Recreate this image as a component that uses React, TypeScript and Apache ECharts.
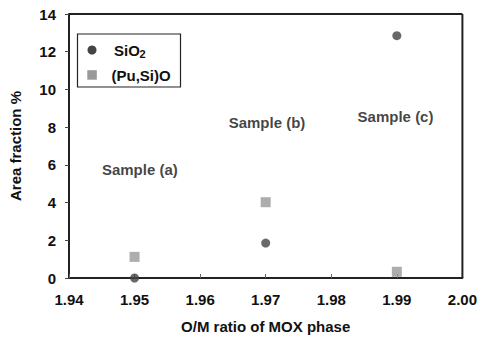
import React, { useEffect, useRef } from "react";
import * as echarts from "echarts";

const omRatio = [1.95, 1.97, 1.99];
const sio2Values = [0.0, 1.85, 12.85];
const puSiOValues = [1.12, 4.02, 0.33];
const seriesNames = ["SiO2", "(Pu,Si)O"];
const seriesColors = ["#444444", "#999999"];
const sampleLabels = ["Sample (a)", "Sample (b)", "Sample (c)"];
const sampleLabelX = [1.9508, 1.9702, 1.9898];
const sampleLabelY = [5.78, 8.27, 8.59];
const yTicks = { min: 0, max: 14, interval: 2 };
const xTicks = { min: 1.94, max: 2.0, interval: 0.01 };

const FONT = "Liberation Sans";
const TEXT = "#111111";
const FRAME = "#222222";

function textEl(x: number, y: number, text: string, size: number) {
  return {
    type: "text",
    x,
    y,
    style: {
      text,
      fontFamily: FONT,
      fontWeight: "bold",
      fontSize: size,
      fill: TEXT,
      align: "left",
      verticalAlign: "middle",
    },
  };
}

function renderFrameAndLegend(params: any, api: any) {
  const tl = api.coord([xTicks.min, yTicks.max]);
  const br = api.coord([xTicks.max, yTicks.min]);
  return {
    type: "group",
    children: [
      { type: "line", shape: { x1: tl[0], y1: tl[1], x2: br[0], y2: tl[1] }, style: { stroke: FRAME, lineWidth: 2 } },
      { type: "line", shape: { x1: br[0], y1: tl[1], x2: br[0], y2: br[1] }, style: { stroke: FRAME, lineWidth: 2 } },
      { type: "rect", shape: { x: 77.5, y: 34, width: 103, height: 53 }, style: { fill: "#ffffff", stroke: FRAME, lineWidth: 1.2 } },
      { type: "circle", shape: { cx: 92, cy: 50, r: 4.5 }, style: { fill: seriesColors[0] } },
      { type: "rect", shape: { x: 87.3, y: 70.2, width: 9.5, height: 9.5 }, style: { fill: seriesColors[1] } },
      textEl(114, 50, "SiO", 15),
      textEl(139.5, 54, "2", 11),
      textEl(111.5, 75, seriesNames[1], 15),
    ],
  };
}

export default function App() {
  const ref = useRef<HTMLDivElement>(null);
  useEffect(() => {
    if (!ref.current) return;
    const chart = echarts.init(ref.current, undefined, { renderer: "svg" });
    chart.setOption({
      animation: false,
      textStyle: { fontFamily: FONT },
      grid: { left: 66, right: 14, top: 14, bottom: 61 },
      xAxis: {
        type: "value",
        min: xTicks.min,
        max: xTicks.max,
        interval: xTicks.interval,
        name: "O/M ratio of MOX phase",
        nameLocation: "middle",
        nameGap: 41,
        nameTextStyle: { fontFamily: FONT, fontWeight: "bold", fontSize: 15, color: TEXT },
        axisLine: { show: true, onZero: false, lineStyle: { color: FRAME, width: 2 } },
        axisTick: { show: true, inside: true, length: 4, lineStyle: { color: "#666666" } },
        axisLabel: {
          margin: 14,
          fontFamily: FONT,
          fontWeight: "bold",
          fontSize: 15,
          color: TEXT,
          formatter: (v: number) => v.toFixed(2),
        },
        splitLine: { show: false },
      },
      yAxis: {
        type: "value",
        min: yTicks.min,
        max: yTicks.max,
        interval: yTicks.interval,
        name: "Area fraction %",
        nameLocation: "middle",
        nameGap: 46,
        nameTextStyle: { fontFamily: FONT, fontWeight: "bold", fontSize: 15, color: TEXT },
        axisLine: { show: true, onZero: false, lineStyle: { color: FRAME, width: 2 } },
        axisTick: { show: true, inside: false, length: 4, lineStyle: { color: "#444444" } },
        axisLabel: { margin: 13, fontFamily: FONT, fontWeight: "bold", fontSize: 15, color: TEXT },
        splitLine: { show: false },
      },
      series: [
        {
          name: "frame",
          type: "custom",
          silent: true,
          clip: false,
          z: 1,
          renderItem: renderFrameAndLegend,
          data: [[xTicks.min, yTicks.min]],
        },
        {
          name: seriesNames[0],
          type: "scatter",
          symbol: "circle",
          symbolSize: 9,
          itemStyle: { color: seriesColors[0] },
          data: omRatio.map((x, i) => [x, sio2Values[i]]),
          z: 5,
        },
        {
          name: seriesNames[1],
          type: "scatter",
          symbol: "rect",
          symbolSize: 10,
          itemStyle: { color: seriesColors[1] },
          data: omRatio.map((x, i) => [x, puSiOValues[i]]),
          z: 4,
        },
        {
          name: "labels",
          type: "scatter",
          symbolSize: 0,
          silent: true,
          data: sampleLabels.map((t, i) => ({ value: [sampleLabelX[i], sampleLabelY[i]], name: t })),
          label: {
            show: true,
            position: "inside",
            formatter: (p: any) => p.name,
            fontFamily: FONT,
            fontWeight: "bold",
            fontSize: 15,
            color: TEXT,
          },
        },
      ],
    });
    return () => chart.dispose();
  }, []);
  return <div ref={ref} style={{ width: 480, height: 339, position: "absolute", left: 0, top: 0 }} />;
}
